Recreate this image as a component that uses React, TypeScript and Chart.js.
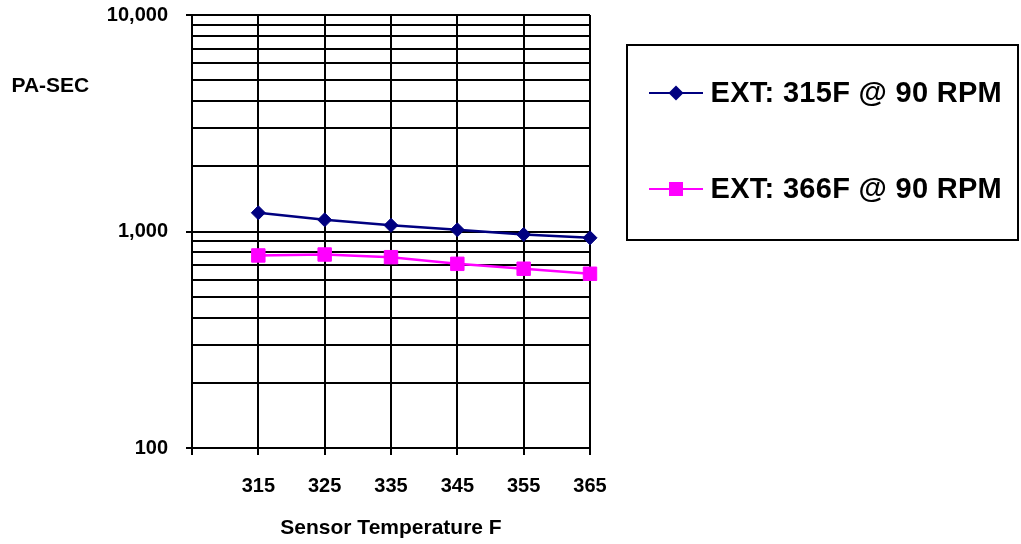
import React, { useEffect, useRef } from 'react';
import { Chart, registerables } from 'chart.js';

Chart.register(...registerables);

// ---- data ----
const temperatures = [315, 325, 335, 345, 355, 365];
const ext315Values = [1220, 1132, 1068, 1018, 969, 935];
const ext366Values = [775, 783, 761, 709, 673, 638];
const seriesLabels = ['EXT: 315F @ 90 RPM', 'EXT: 366F @ 90 RPM'];
const seriesColors = ['#000080', '#FF00FF'];

// ---- axes ----
const xTickValues = [305, 315, 325, 335, 345, 355, 365];
const yGridValues = [
  100, 200, 300, 400, 500, 600, 700, 800, 900,
  1000, 2000, 3000, 4000, 5000, 6000, 7000, 8000, 9000,
  10000,
];
const yLabeledTicks = [100, 1000, 10000];
const yTickLabels = ['100', '1,000', '10,000'];
const xAxisTitle = 'Sensor Temperature F';
const yAxisTitle = 'PA-SEC';

const FONT_FAMILY = '"Liberation Sans", Arial, Helvetica, sans-serif';

const overlayPlugin = {
  id: 'overlayLegendAndTitle',
  afterDraw(chart: any) {
    const ctx = chart.ctx as CanvasRenderingContext2D;
    ctx.save();
    // y axis title (horizontal)
    ctx.fillStyle = '#000';
    ctx.font = `bold 21px ${FONT_FAMILY}`;
    ctx.textAlign = 'left';
    ctx.textBaseline = 'alphabetic';
    ctx.fillText(yAxisTitle, 11.5, 92);

    // legend box
    ctx.strokeStyle = '#000';
    ctx.lineWidth = 2;
    ctx.strokeRect(627, 45, 391, 195);

    const rowLineY = [93, 189];
    const rowBaseY = [102, 198];
    chart.data.datasets.forEach((ds: any, i: number) => {
      const y = rowLineY[i];
      ctx.strokeStyle = ds.borderColor;
      ctx.lineWidth = 2;
      ctx.beginPath();
      ctx.moveTo(649, y);
      ctx.lineTo(703, y);
      ctx.stroke();
      ctx.fillStyle = ds.backgroundColor;
      const cx = 676;
      if (ds.pointStyle === 'rectRot') {
        const r = 7.5;
        ctx.beginPath();
        ctx.moveTo(cx, y - r);
        ctx.lineTo(cx + r, y);
        ctx.lineTo(cx, y + r);
        ctx.lineTo(cx - r, y);
        ctx.closePath();
        ctx.fill();
      } else {
        const h = 7;
        ctx.fillRect(cx - h, y - h, 2 * h, 2 * h);
      }
      ctx.fillStyle = '#000';
      ctx.font = `bold 29px ${FONT_FAMILY}`;
      (ctx as any).letterSpacing = '0.3px';
      ctx.textAlign = 'left';
      ctx.textBaseline = 'alphabetic';
      ctx.fillText(ds.label, 710.5, rowBaseY[i]);
      (ctx as any).letterSpacing = '0px';
    });
    ctx.restore();
  },
};

export default function App() {
  const canvasRef = useRef<HTMLCanvasElement | null>(null);

  useEffect(() => {
    if (!canvasRef.current) return;
    const tickFont = { family: FONT_FAMILY, size: 20, weight: 'bold' as const };
    const titleFont = { family: FONT_FAMILY, size: 21, weight: 'bold' as const };
    const chart = new Chart(canvasRef.current, {
      type: 'line',
      data: {
        datasets: [
          {
            label: seriesLabels[0],
            data: temperatures.map((t, i) => ({ x: t, y: ext315Values[i] })),
            borderColor: seriesColors[0],
            backgroundColor: seriesColors[0],
            pointBackgroundColor: seriesColors[0],
            pointBorderColor: seriesColors[0],
            borderWidth: 2.5,
            pointStyle: 'rectRot',
            pointRadius: 7,
            pointBorderWidth: 1,
            clip: false as any,
          },
          {
            label: seriesLabels[1],
            data: temperatures.map((t, i) => ({ x: t, y: ext366Values[i] })),
            borderColor: seriesColors[1],
            backgroundColor: seriesColors[1],
            pointBackgroundColor: seriesColors[1],
            pointBorderColor: seriesColors[1],
            borderWidth: 2.5,
            pointStyle: 'rect',
            pointRadius: 9.5,
            pointBorderWidth: 1,
            clip: false as any,
          },
        ],
      },
      options: {
        animation: false,
        responsive: false,
        layout: { padding: { top: 15, right: 431, bottom: 0, left: 0 } },
        plugins: {
          legend: { display: false },
          tooltip: { enabled: false },
        },
        scales: {
          x: {
            type: 'linear',
            min: 305,
            max: 365,
            afterBuildTicks: (scale: any) => {
              scale.ticks = xTickValues.map((v) => ({ value: v }));
            },
            afterFit: (scale: any) => {
              scale.height = 96;
            },
            ticks: {
              autoSkip: false,
              maxRotation: 0,
              minRotation: 0,
              padding: 19,
              color: '#000',
              font: tickFont,
              callback: (v: any) => (Number(v) === xTickValues[0] ? '' : String(v)),
            },
            grid: {
              color: '#000',
              lineWidth: 2,
              tickLength: 7,
              tickWidth: 2,
              tickColor: '#000',
            },
            border: { color: '#000', width: 2 },
            title: {
              display: true,
              text: xAxisTitle,
              color: '#000',
              font: titleFont,
              padding: { top: 0, bottom: 3 },
            },
          },
          y: {
            type: 'logarithmic',
            min: 100,
            max: 10000,
            afterBuildTicks: (scale: any) => {
              scale.ticks = yGridValues.map((v) => ({ value: v }));
            },
            afterFit: (scale: any) => {
              scale.width = 192;
              scale.paddingTop = 0;
              scale.paddingBottom = 0;
            },
            ticks: {
              autoSkip: false,
              padding: 18,
              color: '#000',
              font: tickFont,
              callback: (v: any) => {
                const idx = yLabeledTicks.indexOf(Number(v));
                return idx >= 0 ? yTickLabels[idx] : '';
              },
            },
            grid: {
              color: '#000',
              lineWidth: 2,
              tickLength: 6,
              tickWidth: 2,
              tickColor: (ctx: any) =>
                ctx.tick && yLabeledTicks.includes(ctx.tick.value) ? '#000' : 'rgba(0,0,0,0)',
            },
            border: { color: '#000', width: 2 },
          },
        },
      },
      plugins: [overlayPlugin],
    });
    return () => chart.destroy();
  }, []);

  return (
    <div style={{ position: 'absolute', left: 0, top: 0, width: 1021, height: 544, background: '#fff' }}>
      <canvas ref={canvasRef} width={1021} height={544} style={{ display: 'block' }} />
    </div>
  );
}
